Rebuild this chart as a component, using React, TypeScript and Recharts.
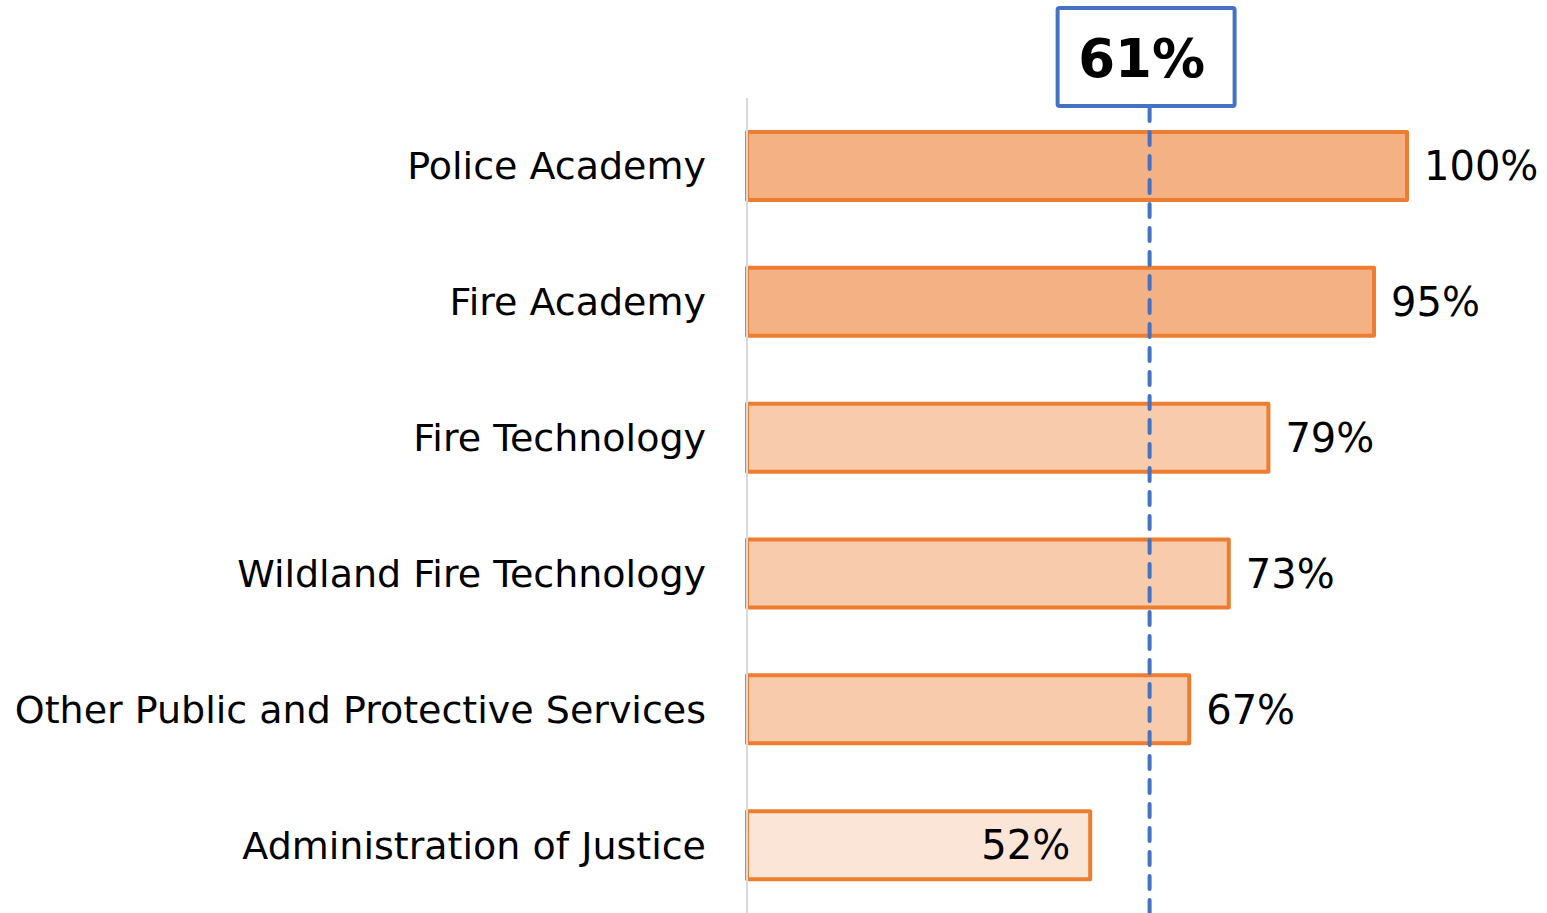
import React from "react";
import { BarChart, Bar, XAxis, YAxis, Cell, LabelList, ReferenceLine } from "recharts";

const programs = [
  "Police Academy",
  "Fire Academy",
  "Fire Technology",
  "Wildland Fire Technology",
  "Other Public and Protective Services",
  "Administration of Justice",
];
const rates = [100, 95, 79, 73, 67, 52];
const average = 61;

// fill shades, darkest for the top two
const barFills = ["#F4B183", "#F4B183", "#F8CBAD", "#F8CBAD", "#F8CBAD", "#FBE5D6"];

const chartData = programs.map((name, i) => ({ name, rate: rates[i] }));

const FONT = "'DejaVu Sans', sans-serif";

function ValueLabel(props: any) {
  const { x, y, width, height, value } = props;
  const inside = value < average;
  const tx = inside ? x + width - 20 : x + width + 17;
  return (
    <text
      x={tx}
      y={y + height / 2}
      dy="0.355em"
      textAnchor={inside ? "end" : "start"}
      fontSize={40}
      fontFamily={FONT}
      fill="#000"
    >
      {value}%
    </text>
  );
}

function AverageBadge(props: any) {
  const { viewBox } = props;
  const cx = viewBox.x;
  const top = viewBox.y;
  return (
    <g>
      <rect x={cx - 92} y={top - 90} width={177} height={98} fill="#fff" stroke="#4472C4" strokeWidth={4} rx={2} />
      <text
        x={cx - 8}
        y={top - 40}
        dy="0.355em"
        textAnchor="middle"
        fontSize={53}
        fontWeight="bold"
        fontFamily={FONT}
        fill="#000"
      >
        {average}%
      </text>
    </g>
  );
}

export default function App() {
  return (
    <div style={{ position: "absolute", left: 0, top: 0, background: "#fff" }}>
      <BarChart
        width={1547}
        height={913}
        data={chartData}
        layout="vertical"
        margin={{ top: 98, right: 140, left: 0, bottom: 0 }}
      >
        <XAxis type="number" domain={[0, 100]} hide />
        <YAxis
          type="category"
          dataKey="name"
          width={747}
          tickLine={false}
          tickSize={0}
          tickMargin={41}
          axisLine={{ stroke: "#D9D9D9", strokeWidth: 2 }}
          tick={{ fill: "#000", fontSize: 38, fontFamily: FONT }}
          interval={0}
        />
        <Bar
          dataKey="rate"
          barSize={68}
          stroke="#ED7D31"
          strokeWidth={4}
          strokeLinejoin="round"
          isAnimationActive={false}
        >
          {chartData.map((d, i) => (
            <Cell key={d.name} fill={barFills[i]} />
          ))}
          <LabelList dataKey="rate" content={<ValueLabel />} />
        </Bar>
        <ReferenceLine
          x={average}
          stroke="#4472C4"
          strokeWidth={4}
          strokeDasharray="13 11"
          strokeLinecap="round"
          label={<AverageBadge />}
        />
      </BarChart>
    </div>
  );
}
